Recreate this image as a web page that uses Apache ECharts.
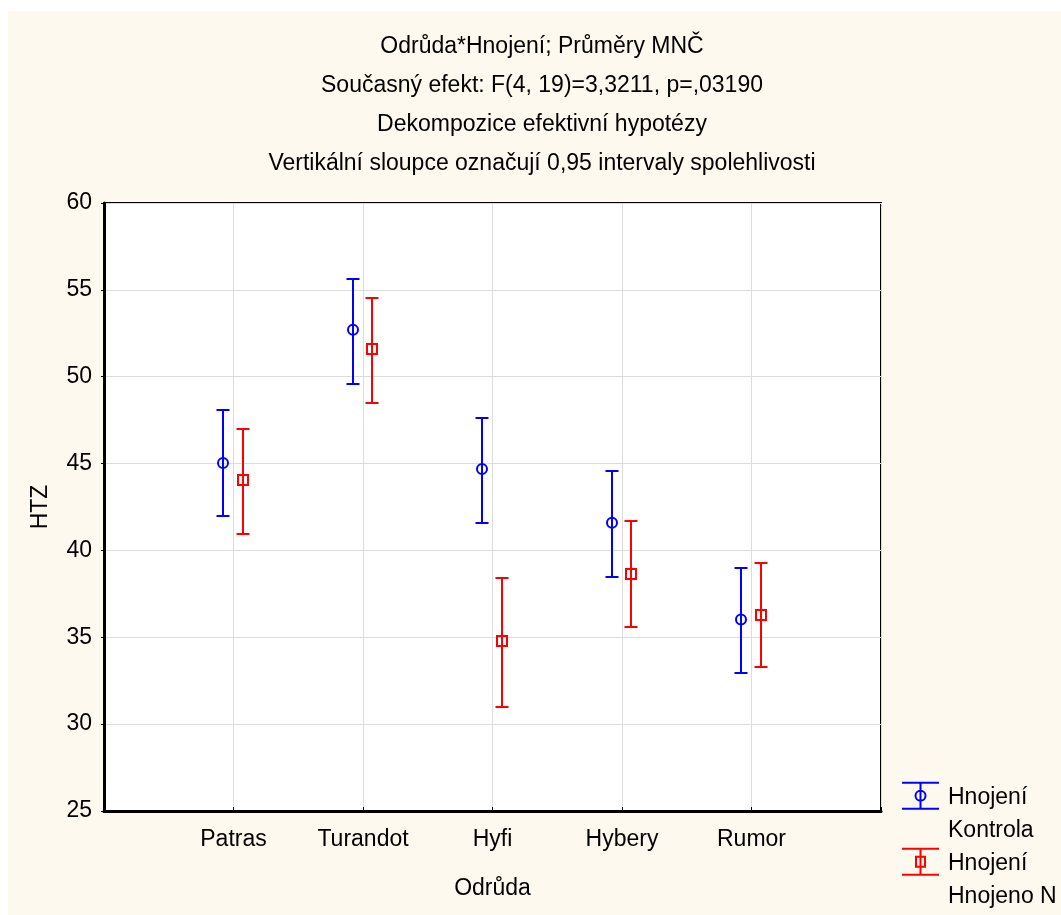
<!DOCTYPE html>
<html>
<head>
<meta charset="utf-8">
<script src="https://cdn.jsdelivr.net/npm/echarts@6/dist/echarts.min.js"></script>
<style>
html,body{margin:0;padding:0;background:#ffffff;width:1061px;height:915px;overflow:hidden;}
#c{position:absolute;left:8px;top:11px;width:1053px;height:904px;}
</style>
</head>
<body>
<div id="c"></div>
<script>
// ---- data ----
const categories = ['Patras', 'Turandot', 'Hyfi', 'Hybery', 'Rumor'];
const seriesNames = ['Kontrola', 'Hnojeno N'];
const legendPrefix = 'Hnojení';
const kontrolaMean = [45.03, 52.71, 44.69, 41.60, 36.03];
const kontrolaLow  = [41.98, 49.58, 41.56, 38.49, 32.96];
const kontrolaHigh = [48.08, 55.63, 47.64, 44.57, 38.99];
const hnojenoMean  = [44.07, 51.60, 34.80, 38.66, 36.30];
const hnojenoLow   = [40.93, 48.49, 31.00, 35.61, 33.27];
const hnojenoHigh  = [46.99, 54.53, 38.39, 41.68, 39.29];
const yTicks = [25, 30, 35, 40, 45, 50, 55, 60];
const titleLines = [
  'Odrůda*Hnojení; Průměry MNČ',
  'Současný efekt: F(4, 19)=3,3211, p=,03190',
  'Dekompozice efektivní hypotézy',
  'Vertikální sloupce označují 0,95 intervaly spolehlivosti'
];
const xName = 'Odrůda';
const yName = 'HTZ';

// ---- build ----
const FONT = '"Liberation Sans", Arial, sans-serif';
function buildData(mean, lo, hi) {
  return categories.map((c, i) => [i + 1, lo[i], hi[i], mean[i]]);
}
function makeRenderer(dx, marker) {
  return function (params, api) {
    const x = api.value(0);
    const lo = api.coord([x, api.value(1)]);
    const hi = api.coord([x, api.value(2)]);
    const m = api.coord([x, api.value(3)]);
    const cx = Math.round(lo[0] + dx);
    const yl = Math.round(lo[1]);
    const yh = Math.round(hi[1]);
    const color = api.visual('color');
    const st = { stroke: color, lineWidth: 2, fill: 'none' };
    const cap = 6.5;
    const children = [
      { type: 'line', shape: { x1: cx, y1: yh, x2: cx, y2: yl }, style: st },
      { type: 'line', shape: { x1: cx - cap, y1: yh, x2: cx + cap, y2: yh }, style: st },
      { type: 'line', shape: { x1: cx - cap, y1: yl, x2: cx + cap, y2: yl }, style: st }
    ];
    if (marker === 'circle') {
      children.push({ type: 'circle', shape: { cx: cx, cy: m[1], r: 5 }, style: st });
    } else {
      children.push({ type: 'rect', shape: { x: cx - 5, y: Math.round(m[1]) - 5, width: 10, height: 10 }, style: st });
    }
    return { type: 'group', children: children };
  };
}

const anchors = 'M0,0 L0.01,0 L0,0.01 Z M41,66 L40.99,66 L41,65.99 Z ';
const barPath = 'M0,0.8 L37,0.8 L37,2.8 L0,2.8 Z M0,26.8 L37,26.8 L37,28.8 L0,28.8 Z M17.5,1.8 L19.5,1.8 L19.5,27.8 L17.5,27.8 Z ';
const ringPath = 'M24.5,14.8 A6,6 0 1 1 12.5,14.8 A6,6 0 1 1 24.5,14.8 Z M22.5,14.8 A4,4 0 1 0 14.5,14.8 A4,4 0 1 0 22.5,14.8 Z';
const squarePath = 'M13,8.8 L24,8.8 L24,20.8 L13,20.8 Z M15,10.8 L15,18.8 L22,18.8 L22,10.8 Z';

const chart = echarts.init(document.getElementById('c'), null, { renderer: 'canvas' });
chart.setOption({
  backgroundColor: '#fef9ef',
  animation: false,
  textStyle: { fontFamily: FONT },
  title: {
    text: titleLines.join('\n'),
    left: 534,
    top: 16,
    padding: 0,
    textAlign: 'center',
    textStyle: { fontFamily: FONT, fontSize: 23, fontWeight: 'normal', color: '#000', lineHeight: 39 }
  },
  legend: {
    orient: 'vertical',
    left: 894,
    top: 770,
    padding: 0,
    itemWidth: 41,
    itemHeight: 66,
    itemGap: 0,
    selectedMode: false,
    formatter: name => legendPrefix + '\n' + name,
    textStyle: { fontFamily: FONT, fontSize: 23, color: '#000', lineHeight: 33 },
    data: [
      { name: seriesNames[0], icon: 'path://' + anchors + barPath + ringPath, itemStyle: { color: '#0000ff', borderWidth: 0 } },
      { name: seriesNames[1], icon: 'path://' + anchors + barPath + squarePath, itemStyle: { color: '#ff0000', borderWidth: 0 } }
    ]
  },
  grid: {
    left: 96, right: 180, top: 192, bottom: 104,
    show: true, backgroundColor: '#ffffff', borderColor: '#000', borderWidth: 2
  },
  xAxis: {
    type: 'value', min: 0, max: categories.length + 1, interval: 1,
    name: xName, nameLocation: 'middle', nameGap: 66,
    nameTextStyle: { fontFamily: FONT, fontSize: 23, color: '#000' },
    axisLine: { show: true, onZero: false, lineStyle: { color: '#000', width: 3 } },
    axisTick: { show: true, inside: true, length: 4, lineStyle: { color: '#000' } },
    axisLabel: {
      margin: 17, fontFamily: FONT, fontSize: 23, color: '#000',
      formatter: v => categories[v - 1] || ''
    },
    splitLine: { show: true, lineStyle: { color: '#dcdcdc', width: 1 } }
  },
  yAxis: {
    type: 'value', min: yTicks[0], max: yTicks[yTicks.length - 1], interval: yTicks[1] - yTicks[0],
    name: yName, nameLocation: 'middle', nameGap: 52,
    nameTextStyle: { fontFamily: FONT, fontSize: 23, color: '#000' },
    axisLine: { show: true, lineStyle: { color: '#000', width: 3 } },
    axisTick: { show: true, length: 3, lineStyle: { color: '#000' } },
    axisLabel: { margin: 12, fontFamily: FONT, fontSize: 23, color: '#000' },
    splitLine: { show: true, lineStyle: { color: '#dcdcdc', width: 1 } }
  },
  series: [
    {
      name: seriesNames[0], type: 'custom',
      itemStyle: { color: '#0000ff' },
      renderItem: makeRenderer(-10.5, 'circle'),
      encode: { x: 0, y: [1, 2, 3] },
      data: buildData(kontrolaMean, kontrolaLow, kontrolaHigh)
    },
    {
      name: seriesNames[1], type: 'custom',
      itemStyle: { color: '#ff0000' },
      renderItem: makeRenderer(9, 'square'),
      encode: { x: 0, y: [1, 2, 3] },
      data: buildData(hnojenoMean, hnojenoLow, hnojenoHigh)
    }
  ]
});
</script>
</body>
</html>
